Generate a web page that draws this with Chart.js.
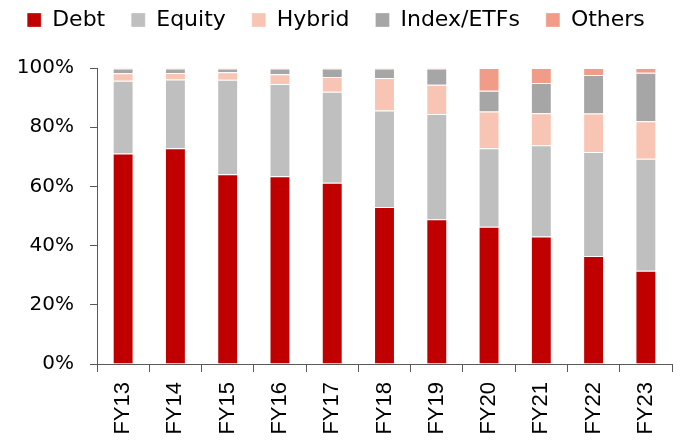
<!DOCTYPE html>
<html>
<head>
<meta charset="utf-8">
<script src="https://cdn.jsdelivr.net/npm/chart.js@4"></script>
<style>
  body { margin: 0; background: #fff; }
</style>
</head>
<body>
<canvas id="aumChart" width="689" height="443"></canvas>
<script>
// Fiscal years
const years = ['FY13', 'FY14', 'FY15', 'FY16', 'FY17', 'FY18', 'FY19', 'FY20', 'FY21', 'FY22', 'FY23'];

// Share of AUM by category (%)
const debt   = [71.1, 72.9, 64.1, 63.4, 61.2, 53.0, 48.9, 46.4, 43.1, 36.5, 31.5];
const equity = [24.6, 23.2, 31.9, 31.2, 30.8, 32.6, 35.6, 26.5, 30.8, 35.1, 37.8];
const hybrid = [2.5, 2.2, 2.6, 3.3, 5.0, 11.0, 9.8, 12.4, 10.8, 13.0, 12.7];
const indexEtf = [1.6, 1.5, 1.2, 1.9, 2.8, 3.2, 5.5, 7.0, 10.2, 13.0, 16.4];
const others = [0.2, 0.2, 0.2, 0.2, 0.2, 0.2, 0.2, 7.7, 5.1, 2.4, 1.6];

// Y axis ticks
const yTicks = [0, 20, 40, 60, 80, 100];

function makeSet(label, data, color) {
  return {
    label: label,
    data: data,
    backgroundColor: color,
    borderColor: 'rgba(255,255,255,0.3)',
    borderWidth: 1,
    barPercentage: 0.4,
    categoryPercentage: 1.0,
  };
}

// Adds some space between the legend and the plot area
const legendSpacer = {
  id: 'legendSpacer',
  beforeInit(chart) {
    const origFit = chart.legend.fit;
    chart.legend.fit = function () {
      origFit.bind(chart.legend)();
      this.height += 27;
    };
  },
};

const ctx = document.getElementById('aumChart').getContext('2d');
const aumChart = new Chart(ctx, {
  type: 'bar',
  data: {
    labels: years,
    datasets: [
      makeSet('Debt', debt, '#C00000'),
      makeSet('Equity', equity, '#BFBFBF'),
      makeSet('Hybrid', hybrid, '#F8C5B4'),
      makeSet('Index/ETFs', indexEtf, '#A6A6A6'),
      makeSet('Others', others, '#F09C88'),
    ],
  },
  plugins: [legendSpacer],
  options: {
    responsive: false,
    animation: false,
    layout: {
      padding: { top: -17, left: 0, right: 17, bottom: 0 },
    },
    plugins: {
      tooltip: { enabled: false },
      legend: {
        position: 'top',
        labels: {
          boxWidth: 14,
          boxHeight: 14,
          padding: 26,
          color: '#000',
          font: { family: 'DejaVu Sans', size: 22 },
        },
      },
    },
    scales: {
      x: {
        stacked: true,
        afterFit: (scale) => { scale.height = 79; },
        grid: {
          offset: true,
          drawOnChartArea: false,
          tickLength: 8,
          color: '#595959',
        },
        border: { color: '#595959', width: 1 },
        ticks: {
          minRotation: 90,
          maxRotation: 90,
          padding: 10,
          color: '#000',
          font: { family: 'Liberation Sans', size: 22 },
        },
      },
      y: {
        stacked: true,
        min: 0,
        max: 100,
        afterFit: (scale) => { scale.width = 97; },
        afterBuildTicks: (scale) => {
          scale.ticks = yTicks.map(v => ({ value: v }));
        },
        grid: {
          drawOnChartArea: false,
          tickLength: 7,
          color: '#595959',
        },
        border: { color: '#595959', width: 1 },
        ticks: {
          padding: 16,
          color: '#000',
          font: { family: 'DejaVu Sans', size: 20 },
          callback: (v) => v + '%',
        },
      },
    },
  },
});
</script>
</body>
</html>
